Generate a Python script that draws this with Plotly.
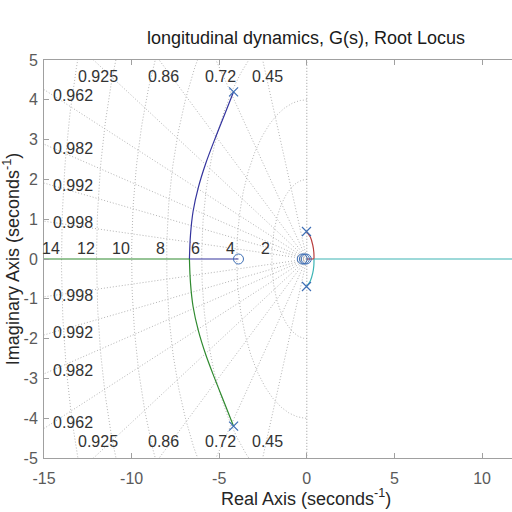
import numpy as np
import plotly.graph_objects as go

# ---- data ----
zeta_vals = [0.45, 0.72, 0.86, 0.925, 0.962, 0.982, 0.992, 0.998]
zeta_top = [0.925, 0.86, 0.72, 0.45]
zeta_left = [0.962, 0.982, 0.992, 0.998]
wn_vals = [2, 4, 6, 8, 10, 12, 14]

poles_re = [-4.18, -4.18, -0.02, -0.02]
poles_im = [4.2, -4.2, 0.69, -0.69]
zeros_re = [-3.9, -0.26, -0.14, -0.03]
zeros_im = [0, 0, 0, 0]

blue_arc_re = [-4.18, -4.72, -5.26, -5.77, -6.19, -6.49, -6.64, -6.70]
blue_arc_im = [4.2, 3.6, 3.0, 2.4, 1.8, 1.2, 0.6, 0.0]
blue_axis_re = [-6.7, -3.9]
green_arc_re = blue_arc_re
green_arc_im = [-v for v in blue_arc_im]
green_axis_re = [-6.7, -20]
red_arc_re = [-0.02, 0.2, 0.34, 0.4, 0.41]
red_arc_im = [0.69, 0.55, 0.35, 0.17, 0.0]
red_axis_re = [0.41, 0.0]
cyan_arc_re = red_arc_re
cyan_arc_im = [-v for v in red_arc_im]
cyan_axis_re = [0.41, 20]

x_ticks = [-15, -10, -5, 0, 5, 10]
x_tick_text = ["-15", "-10", "-5", "0", "5", "10"]
y_ticks = [-5, -4, -3, -2, -1, 0, 1, 2, 3, 4, 5]
y_tick_text = ["-5", "-4", "-3", "-2", "-1", "0", "1", "2", "3", "4", "5"]

FONT = "Liberation Sans, Arial, sans-serif"
GRID = "#b4b4b4"
DOT = "1px,2px"
BLUE, GREEN, RED, CYAN = "#34349e", "#2f8a2f", "#b83c3c", "#3cb4b4"
MARK = "#3f6fb5"

fig = go.Figure()

# damping lines
for z in zeta_vals:
    th = np.arccos(z)
    R = 40
    for s in (1, -1):
        fig.add_trace(go.Scatter(x=[0, -R * np.cos(th)], y=[0, s * R * np.sin(th)],
                                 mode="lines", line=dict(color=GRID, width=1, dash=DOT),
                                 hoverinfo="skip", showlegend=False))
# natural frequency semicircles
t = np.linspace(np.pi / 2, 3 * np.pi / 2, 240)
for w in wn_vals:
    fig.add_trace(go.Scatter(x=w * np.cos(t), y=w * np.sin(t), mode="lines",
                             line=dict(color=GRID, width=1, dash=DOT),
                             hoverinfo="skip", showlegend=False))
# imaginary axis (zeta = 0)
fig.add_trace(go.Scatter(x=[0, 0], y=[-6, 6], mode="lines",
                         line=dict(color="#999999", width=1, dash=DOT),
                         hoverinfo="skip", showlegend=False))

def branch(xs, ys, color, shape="spline"):
    fig.add_trace(go.Scatter(x=xs, y=ys, mode="lines",
                             line=dict(color=color, width=1.2, shape=shape),
                             showlegend=False))

branch(blue_arc_re, blue_arc_im, BLUE)
branch(blue_axis_re, [0, 0], BLUE, "linear")
branch(green_arc_re, green_arc_im, GREEN)
branch(green_axis_re, [0, 0], GREEN, "linear")
branch(red_arc_re, red_arc_im, RED)
branch(red_axis_re, [0, 0], RED, "linear")
branch(cyan_arc_re, cyan_arc_im, CYAN)
branch(cyan_axis_re, [0, 0], CYAN, "linear")

fig.add_trace(go.Scatter(x=poles_re, y=poles_im, mode="markers",
                         marker=dict(symbol="x-thin-open", size=9, color=MARK,
                                     line=dict(color=MARK, width=1.2)),
                         showlegend=False))
fig.add_trace(go.Scatter(x=zeros_re, y=zeros_im, mode="markers",
                         marker=dict(symbol="circle-open", size=10, color=MARK,
                                     line=dict(color=MARK, width=1)),
                         showlegend=False))

ann = []
lab_font = dict(family=FONT, size=16, color="#333333")
for w in wn_vals:
    ann.append(dict(x=-w, y=0, text=str(w), showarrow=False, xanchor="right",
                    yanchor="bottom", font=lab_font))
for z in zeta_top:
    th = np.arccos(z)
    xc = -5 / np.tan(th) + 0.25
    for s in (1, -1):
        ann.append(dict(x=xc, y=s * 4.58, text=str(z), showarrow=False,
                        xanchor="center", yanchor="middle", font=lab_font))
for z in zeta_left:
    th = np.arccos(z)
    yc = 14.5 * np.tan(th)
    for s in (1, -1):
        ann.append(dict(x=-14.62, y=s * yc, text=str(z), showarrow=False,
                        xanchor="left", yanchor="middle", font=lab_font))
# x-axis title, centred on the full (cropped) axes as in the reference
ann.append(dict(text="Real Axis (seconds<sup>-1</sup>)", xref="paper", yref="paper",
                x=(306 - 44) / 468, y=-(497 - 458) / 398, xanchor="center", yanchor="middle",
                showarrow=False, font=dict(family=FONT, size=18, color="#262626")))

axis_common = dict(showgrid=False, zeroline=False, showline=True, linecolor="#a0a0a0",
                   linewidth=1, ticks="inside", ticklen=5, tickcolor="#a0a0a0",
                   tickfont=dict(family=FONT, size=16, color="#5a5a5a"))

fig.update_layout(
    width=512, height=512,
    margin=dict(l=44, r=0, t=60, b=54),
    paper_bgcolor="white", plot_bgcolor="white",
    title=dict(text="longitudinal dynamics, G(s), Root Locus", x=306 / 512, xref="container",
               xanchor="center", y=1 - 38 / 512, yref="container", yanchor="middle",
               font=dict(family=FONT, size=18, color="#1a1a1a")),
    xaxis=dict(range=[-15, 11.71], tickvals=x_ticks, ticktext=x_tick_text, mirror="ticks",
               ticklabelstandoff=6, **axis_common),
    yaxis=dict(range=[-5, 5], tickvals=y_ticks, ticktext=y_tick_text,
               ticklabelstandoff=2,
               title=dict(text="Imaginary Axis (seconds<sup>-1</sup>)", standoff=4,
                          font=dict(family=FONT, size=18, color="#262626")),
               **axis_common),
    annotations=ann,
)

fig.write_html("out.html")
